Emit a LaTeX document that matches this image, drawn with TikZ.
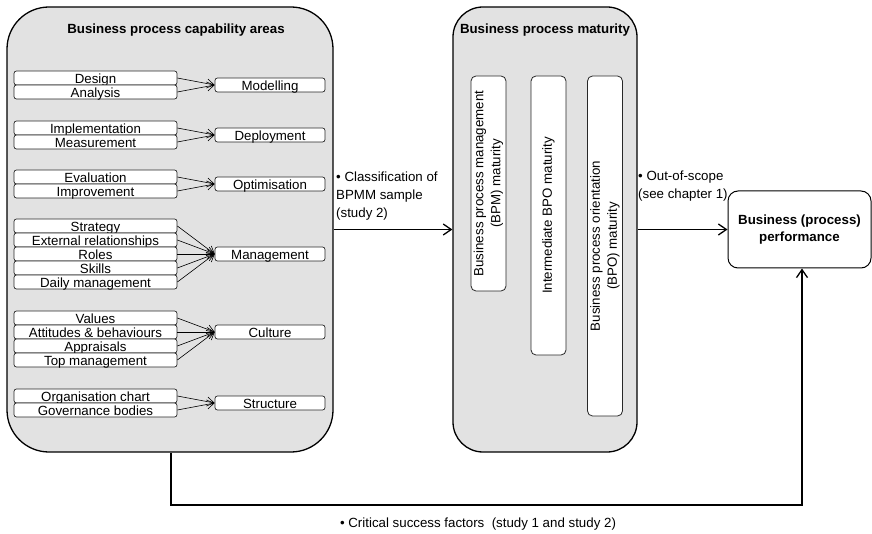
\documentclass[tikz,border=0pt]{standalone}
\usepackage{fontspec}
\setmainfont{Liberation Sans}
\usetikzlibrary{arrows.meta,calc}
\definecolor{panelgray}{RGB}{226,226,226}
\definecolor{inkgray}{RGB}{40,40,40}

\begin{document}
\begin{tikzpicture}[x=1pt,y=-1pt,
  font=\fontsize{13.3}{17}\selectfont,
  panel/.style={draw=black, line width=1.3pt, fill=panelgray, rounded corners=#1, inner sep=0pt},
  item/.style={draw=inkgray, line width=0.7pt, fill=white, rounded corners=2.5pt,
    minimum width=163pt, minimum height=14pt, inner sep=0pt, text height=10.6pt, text depth=0pt},
  area/.style={item, minimum width=110pt},
  colbox/.style={draw=inkgray, line width=0.8pt, fill=white, rounded corners=5pt, rotate=90,
    minimum height=35pt, inner sep=0pt, align=center},
  feed/.style={line width=0.6pt, -{Straight Barb[length=7pt,width=9pt]}},
  flow/.style={line width=1.3pt, -{Straight Barb[length=8pt,width=11pt,line width=1.3pt]}},
  note/.style={align=left, anchor=north west, inner sep=0pt, font=\fontsize{13.3}{18}\selectfont},
  heading/.style={font=\fontsize{13.3}{16}\selectfont\bfseries, anchor=base, inner sep=0pt}
]
\useasboundingbox (0,0) rectangle (872,534);

% two rounded panels
\node[panel=42pt, minimum width=326pt, minimum height=445pt] (cap) at (170,229.5) {};
\node[panel=30pt, minimum width=184pt, minimum height=445pt] (mat) at (545,229.5) {};
\node[heading] (captitle) at (176,33.3) {Business process capability areas};
\node[heading] (mattitle) at (545,33.3) {Business process maturity};

% outcome box
\node[draw=black, line width=1pt, rounded corners=10pt, minimum width=143pt, minimum height=77pt,
  align=center, font=\fontsize{13.3}{17}\selectfont\bfseries] (perf) at (799.5,229.5)
  {Business (process)\\performance};

% capability areas: modelling
\node[item] (design) at (95.5,78) {Design};
\node[item] (analysis) at (95.5,92) {Analysis};
\node[area] (modelling) at (270,85) {Modelling};
% deployment
\node[item] (implementation) at (95.5,128) {Implementation};
\node[item] (measurement) at (95.5,142) {Measurement};
\node[area] (deployment) at (270,135) {Deployment};
% optimisation
\node[item] (evaluation) at (95.5,177) {Evaluation};
\node[item] (improvement) at (95.5,191) {Improvement};
\node[area] (optimisation) at (270,184) {Optimisation};
% management
\node[item] (strategy) at (95.5,226) {Strategy};
\node[item] (external) at (95.5,240) {External relationships};
\node[item] (roles) at (95.5,254) {Roles};
\node[item] (skills) at (95.5,268) {Skills};
\node[item] (daily) at (95.5,282) {Daily management};
\node[area] (management) at (270,254) {Management};
% culture
\node[item] (values) at (95.5,318) {Values};
\node[item] (attitudes) at (95.5,332) {Attitudes \& behaviours};
\node[item] (appraisals) at (95.5,346) {Appraisals};
\node[item] (topmgmt) at (95.5,360) {Top management};
\node[area] (culture) at (270,332) {Culture};
% structure
\node[item] (orgchart) at (95.5,396) {Organisation chart};
\node[item] (governance) at (95.5,410) {Governance bodies};
\node[area] (structure) at (270,403) {Structure};

\foreach \s in {design,analysis} \draw[feed] (\s.east) -- (modelling.west);
\foreach \s in {implementation,measurement} \draw[feed] (\s.east) -- (deployment.west);
\foreach \s in {evaluation,improvement} \draw[feed] (\s.east) -- (optimisation.west);
\foreach \s in {strategy,external,roles,skills,daily} \draw[feed] (\s.east) -- (management.west);
\foreach \s in {values,attitudes,appraisals,topmgmt} \draw[feed] (\s.east) -- (culture.west);
\foreach \s in {orgchart,governance} \draw[feed] (\s.east) -- (structure.west);

% maturity columns
\node[colbox, minimum width=215pt] (bpm) at (488.5,183.5) {Business process management\\(BPM) maturity};
\node[colbox, minimum width=279pt] (mid) at (548.5,215.5) {Intermediate BPO maturity};
\node[colbox, minimum width=340pt] (bpo) at (605,246) {Business process orientation\\(BPO) maturity};

% connectors
\draw[flow] (cap.east) -- (mat.west);
\draw[flow] (mat.east) -- (perf.west);
\coordinate (csf) at (171,505);
\draw[flow] (csf |- cap.south) -- (csf) -| ([xshift=2.5pt]perf.south);

% connector labels
\node[note] (classlbl) at (336,172) {\textbullet\ Classification of\\BPMM sample\\(study 2)};
\node[note] (scopelbl) at (638,171) {\textbullet\ Out-of-scope\\(see chapter 1)};
\node[anchor=base, inner sep=0pt] (csflbl) at (478,527.5) {\textbullet\ Critical success factors~ (study 1 and study 2)};
\end{tikzpicture}
\end{document}
